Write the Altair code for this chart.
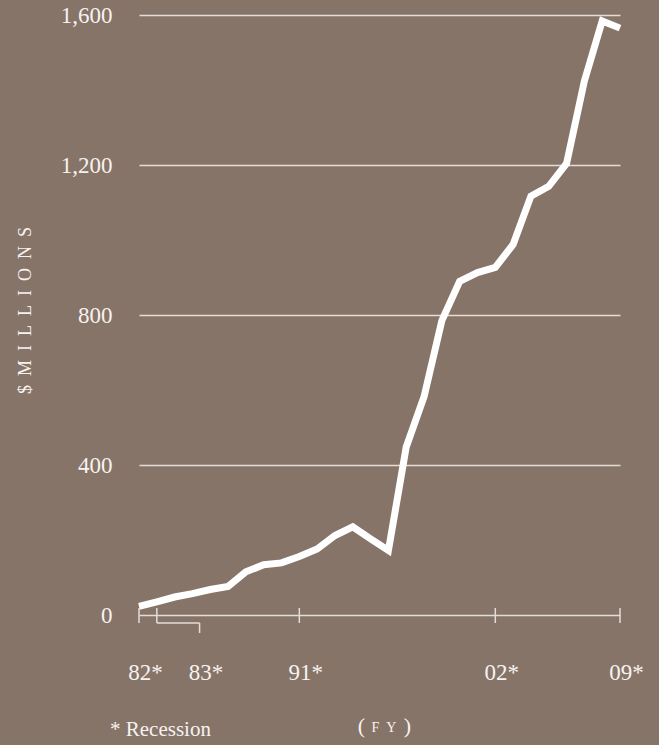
import altair as alt
import pandas as pd

# ---- data ----
years = list(range(1982, 2010))
values = [23, 35, 48, 57, 68, 76, 115, 134, 139, 156, 176, 212, 235, 203, 172,
          448, 582, 785, 890, 913, 927, 988, 1117, 1143, 1204, 1424, 1584, 1565]

tick_years = [1982, 1983, 1991, 2002, 2009]
label_positions = [1982, 1985.4, 1991, 2002, 2009]
label_texts = ["82*", "83*", "91*", "02*", "09*"]
y_ticks = [0, 400, 800, 1200, 1600]
bracket_start = [1983]
bracket_end = [1985.4]

BG = "#877469"
GRID = "#e4dcd7"
TEXT = "#f6f2ef"
FONT = "Liberation Serif"

df = pd.DataFrame({"year": years, "value": values})
ticks_df = pd.DataFrame({"year": tick_years})
bracket_df = pd.DataFrame({"start": bracket_start, "end": bracket_end})

label_expr = ""
for p, t in zip(label_positions, label_texts):
    label_expr += f"datum.value == {p} ? '{t}' : "
label_expr += "''"

x_scale = alt.Scale(domain=[1982, 2009], nice=False, zero=False)
y_scale = alt.Scale(domain=[0, 1600], nice=False)

title_text = "$\u2002M\u2002I\u2002L\u2002L\u2002I\u2002O\u2002N\u2002S"

line = alt.Chart(df).mark_line(
    color="#ffffff", strokeWidth=7, strokeJoin="miter", strokeCap="butt"
).encode(
    x=alt.X("year:Q", scale=x_scale, axis=alt.Axis(
        values=label_positions, labelExpr=label_expr, domain=False, ticks=False,
        tickSize=0, grid=False, labelFont=FONT, labelFontSize=23, labelColor=TEXT,
        labelPadding=64, labelBaseline="alphabetic", labelOffset=6,
        labelFlush=False, labelOverlap=False, title=None)),
    y=alt.Y("value:Q", scale=y_scale, axis=alt.Axis(
        values=y_ticks, format=",.0f", domain=False, ticks=False, tickSize=0,
        grid=True, gridColor=GRID, gridWidth=1.5, labelFont=FONT,
        labelFontSize=23, labelColor=TEXT, labelPadding=27,
        title=title_text, titleFont=FONT, titleFontSize=18,
        titleFontWeight="normal", titleColor=TEXT, titleAngle=270,
        titleX=-114, titleY=295, titleAlign="center", titleBaseline="middle")),
)

ticks = alt.Chart(ticks_df).mark_rule(color=GRID, strokeWidth=1.5).encode(
    x=alt.X("year:Q", scale=x_scale), y=alt.value(593), y2=alt.value(608)
)

bracket_h = alt.Chart(bracket_df).mark_rule(color=GRID, strokeWidth=1.5).encode(
    x=alt.X("start:Q", scale=x_scale), x2="end:Q", y=alt.value(608)
)
bracket_v = alt.Chart(bracket_df).mark_rule(color=GRID, strokeWidth=1.5).encode(
    x=alt.X("end:Q", scale=x_scale), y=alt.value(608), y2=alt.value(618)
)

recession = alt.Chart(pd.DataFrame({"t": ["* Recession"]})).mark_text(
    font=FONT, fontSize=21, color=TEXT, align="left", baseline="alphabetic"
).encode(text="t:N", x=alt.value(-29), y=alt.value(721))

paren_l = alt.Chart(pd.DataFrame({"t": ["("]})).mark_text(
    font=FONT, fontSize=22, color=TEXT, align="center", baseline="alphabetic"
).encode(text="t:N", x=alt.value(222.5), y=alt.value(718))
paren_r = alt.Chart(pd.DataFrame({"t": [")"]})).mark_text(
    font=FONT, fontSize=22, color=TEXT, align="center", baseline="alphabetic"
).encode(text="t:N", x=alt.value(268.5), y=alt.value(718))
fy = alt.Chart(pd.DataFrame({"t": ["F\u2002Y"]})).mark_text(
    font=FONT, fontSize=14, color=TEXT, align="center", baseline="alphabetic"
).encode(text="t:N", x=alt.value(245), y=alt.value(717))

chart = alt.layer(
    ticks, bracket_h, bracket_v, line, recession, paren_l, paren_r, fy
).properties(
    width=481, height=600,
    autosize=alt.AutoSizeParams(type="none"),
    padding={"left": 139, "top": 15, "right": 39, "bottom": 130},
    background=BG,
).configure_view(stroke=None)

chart.save("out.html", embed_options={"renderer": "svg", "actions": False})
